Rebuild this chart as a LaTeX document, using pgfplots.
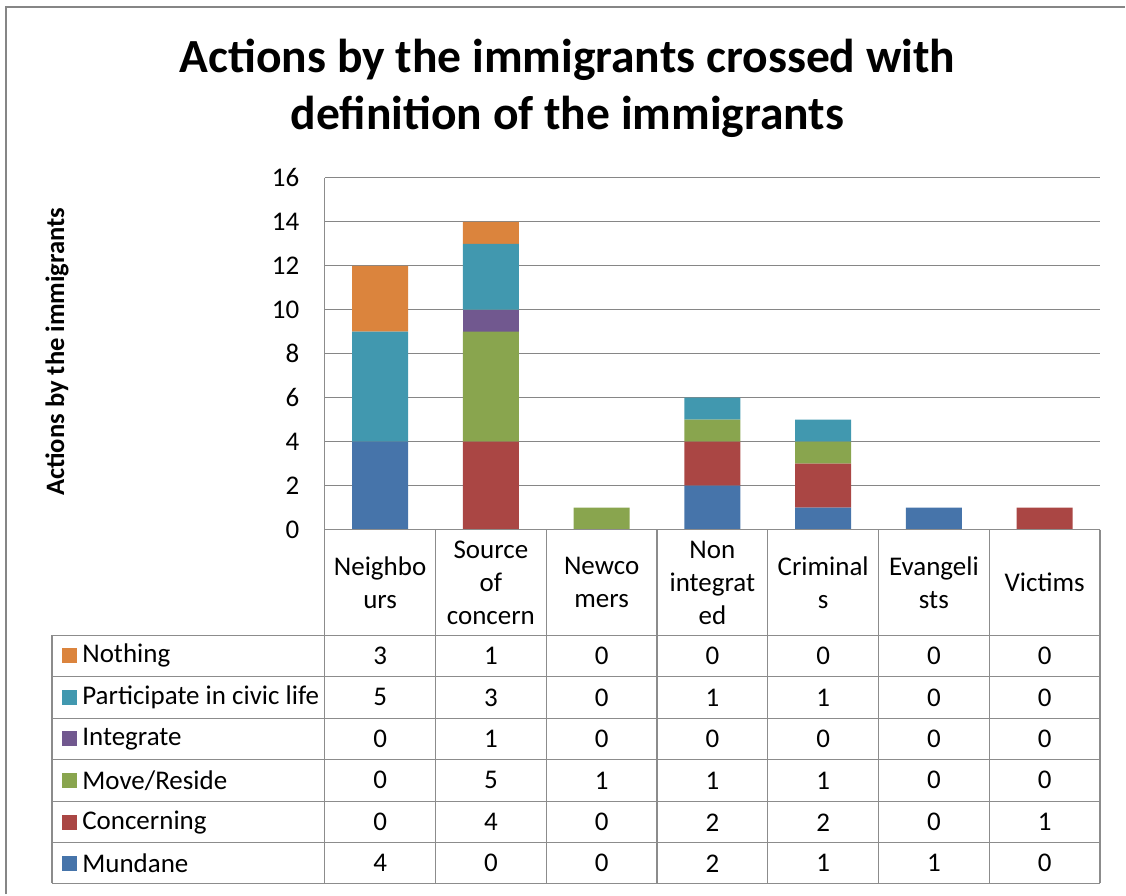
\documentclass[border=0pt]{standalone}
\usepackage{pgfplots}
\pgfplotsset{compat=1.18}
\usepackage{pgfplotstable}
\usepackage{fontspec}
\setmainfont{Carlito}
\definecolor{cMun}{HTML}{4674AA}
\definecolor{cCon}{HTML}{AA4644}
\definecolor{cMov}{HTML}{89A54E}
\definecolor{cInt}{HTML}{71588F}
\definecolor{cPar}{HTML}{4198AF}
\definecolor{cNot}{HTML}{DB843D}
\definecolor{gridc}{HTML}{868686}
\definecolor{tblc}{HTML}{8C8C8C}
\pgfplotstableread{
x mun con mov int par not
0 4 0 0 0 5 3
1 0 4 5 1 3 1
2 0 0 1 0 0 0
3 2 2 1 0 1 0
4 1 2 1 0 1 0
5 1 0 0 0 0 0
6 0 1 0 0 0 0
}\datatable
\newcommand{\tfont}{\fontsize{13.5}{16.5}\selectfont}
\begin{document}
\begin{tikzpicture}[x=0.5pt,y=-0.5pt]
\path (0,0) rectangle (1126,895);
\draw[color=gridc, line width=1pt] (6,895) -- (6,7) -- (1126,7);
\begin{axis}[
  at={(162.5pt,-265pt)}, anchor=south west,
  scale only axis, width=388pt, height=176pt,
  xmin=-0.5, xmax=6.5, ymin=0, ymax=16,
  ytick={0,2,...,16}, xtick=\empty,
  ybar stacked, bar width=28pt,
  axis line style={draw=none},
  major tick length=0pt,
  ymajorgrids, major grid style={color=gridc, line width=0.5pt},
  /pgf/number format/assume math mode=true,
  yticklabel style={font=\tfont, inner sep=0pt, anchor=east, xshift=-12.5pt},
]
\addplot[fill=cMun, draw=none] table[x=x,y=mun]{\datatable};
\addplot[fill=cCon, draw=none] table[x=x,y=con]{\datatable};
\addplot[fill=cMov, draw=none] table[x=x,y=mov]{\datatable};
\addplot[fill=cInt, draw=none] table[x=x,y=int]{\datatable};
\addplot[fill=cPar, draw=none] table[x=x,y=par]{\datatable};
\addplot[fill=cNot, draw=none] table[x=x,y=not]{\datatable};
\end{axis}
% table grid
\begin{scope}[color=tblc, line width=0.6pt]
\draw (325,178) -- (325,884);
\draw (325,530) -- (1101,530);
\foreach \yy in {636,677,719,760,802,843,884} {\draw (52,\yy) -- (1101,\yy);}
\draw (52,636) -- (52,884);
\foreach \k in {1,...,7} {\draw (325+\k*110.857,530) -- (325+\k*110.857,884);}
\end{scope}
% title
\node[font=\fontsize{23.8}{28}\selectfont\bfseries, anchor=base] at (568,73) {Actions by the immigrants crossed with};
\node[font=\fontsize{23.8}{28}\selectfont\bfseries, anchor=base] at (568,130) {definition of the immigrants};
% y label
\node[rotate=90, font=\fontsize{13.3}{16}\selectfont\bfseries] at (57,352) {Actions by the immigrants};
% category labels
\foreach \lab [count=\i from 0] in {Neighbo\\urs, Source\\of\\concern, Newco\\mers, Non\\integrat\\ed, Criminal\\s, Evangeli\\sts, Victims} {
  \node[align=center, font=\tfont, inner sep=0pt] at (380.43+\i*110.857,583) {\lab};
}
% legend column
\foreach \yy/\col/\lab in {656.5/cNot/Nothing, 698/cPar/Participate in civic life, 739.5/cInt/Integrate, 781/cMov/Move\slash Reside, 823/cCon/Concerning, 864/cMun/Mundane} {
  \fill[\col] (62,\yy-7.5) rectangle (77,\yy+7.5);
  \node[anchor=west, font=\tfont, inner sep=0pt] at (82,\yy) {\lab};
}
% values
\foreach \yy/\vals in {656.5/{3,1,0,0,0,0,0}, 698/{5,3,0,1,1,0,0}, 739.5/{0,1,0,0,0,0,0}, 781/{0,5,1,1,1,0,0}, 823/{0,4,0,2,2,0,1}, 864/{4,0,0,2,1,1,0}} {
  \foreach \v [count=\i from 0] in \vals {
    \node[font=\tfont, inner sep=0pt] at (380.43+\i*110.857,\yy) {\v};
  }
}
\end{tikzpicture}
\end{document}
